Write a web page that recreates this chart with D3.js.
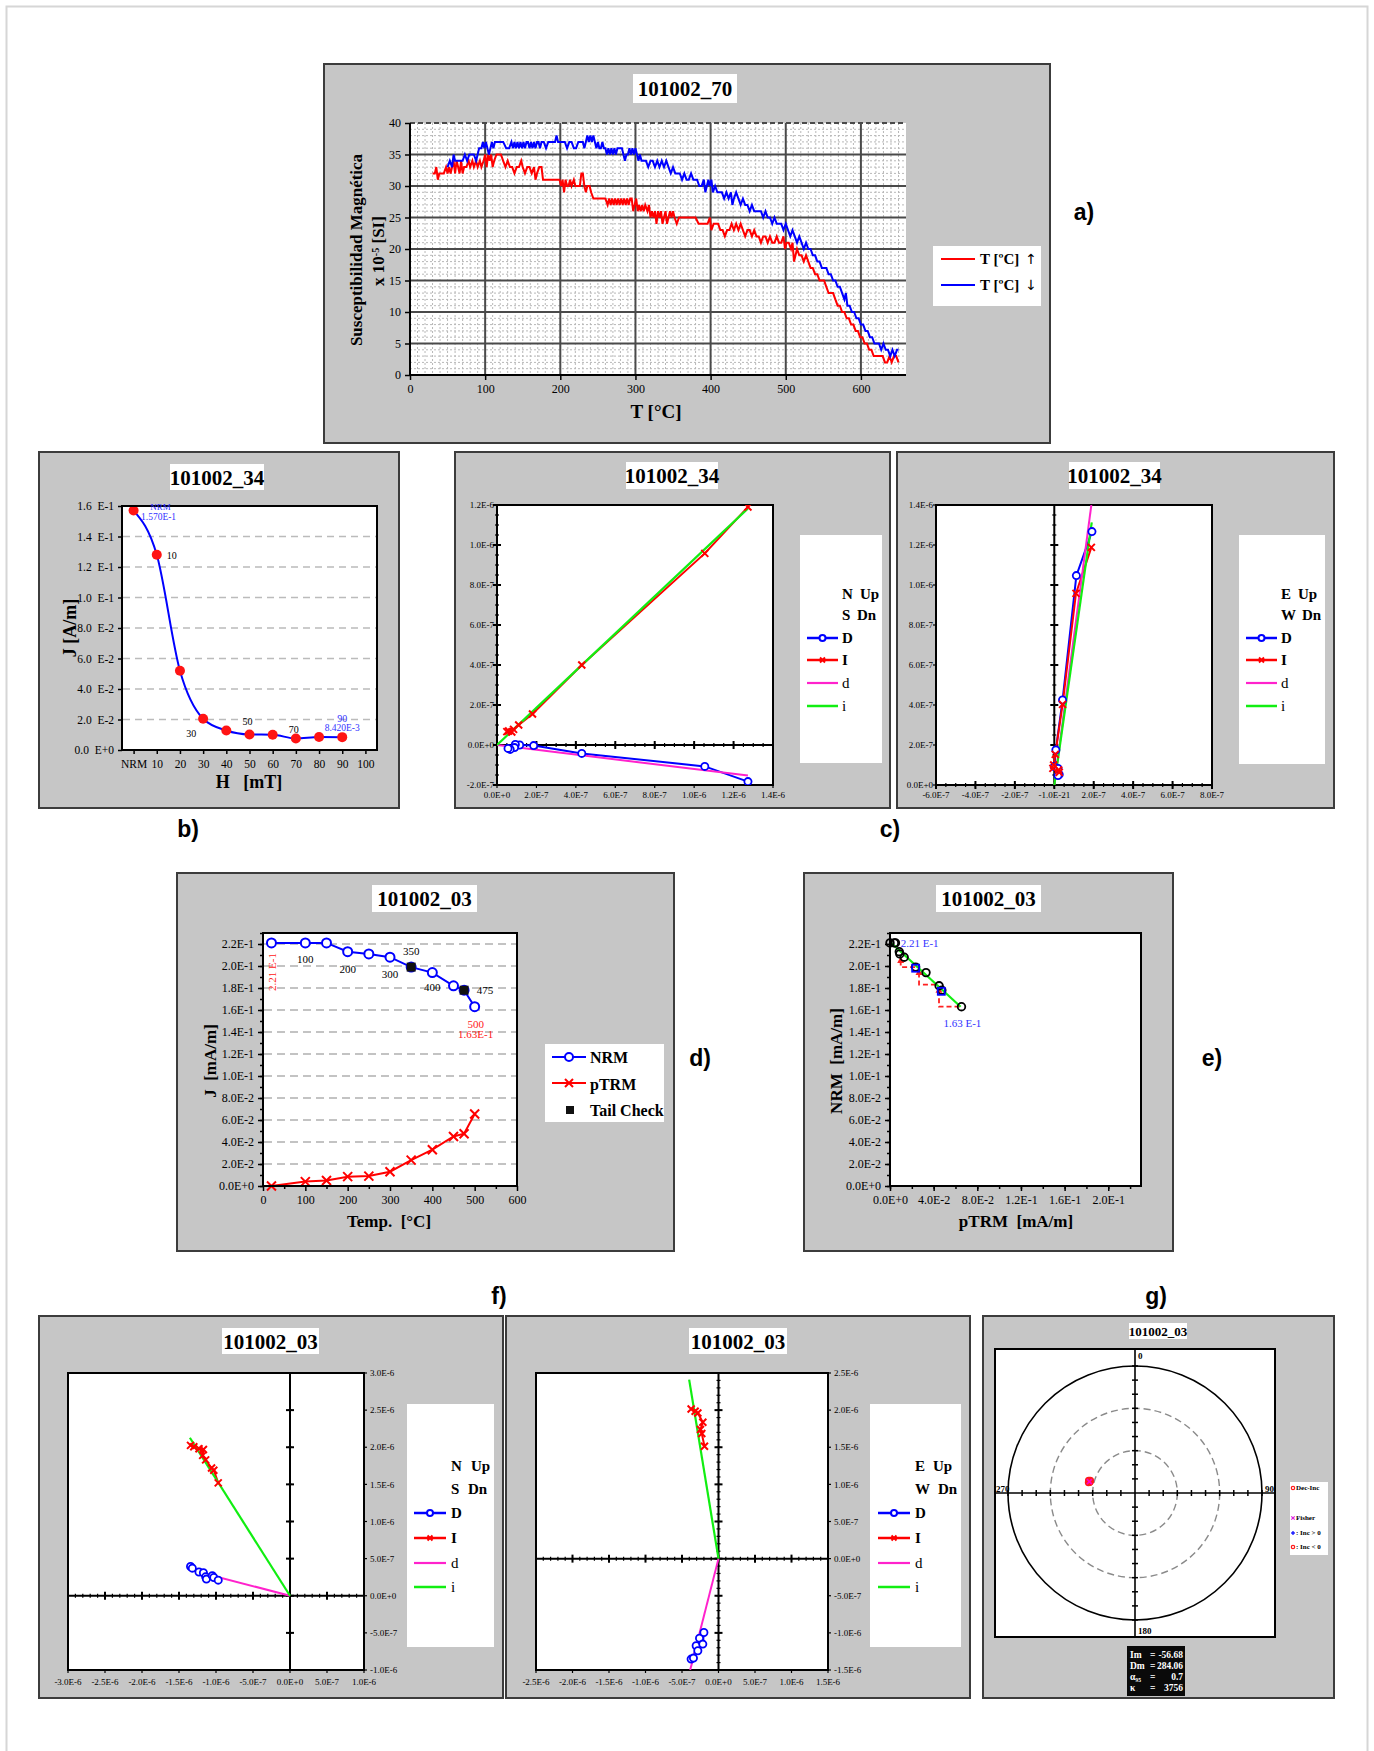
<!DOCTYPE html>
<html><head><meta charset="utf-8">
<script src="https://cdn.jsdelivr.net/npm/d3@7"></script>
<style>body{margin:0;background:#fff}svg{display:block}</style>
</head><body><script>
// ================= DATA =================
// a) susceptibility vs temperature
const suscHeating = [[30,32],[33,32],[35,33],[37,31],[39,32],[42,32],[45,32],[48,33],[50,32],[52,33],[54,32],[56,33],[58,34],[60,32],[62,34],[64,33],[66,32],[68,34],[70,32],[72,33],[75,33],[78,34],[80,33],[83,34],[85,33],[88,34],[90,33],[93,34],[95,33],[98,34],[100,35],[102,33],[104,35],[106,34],[108,35],[110,33],[112,34],[115,35],[118,35],[121,35],[124,34],[127,33],[130,34],[133,33],[136,33],[139,32],[142,33],[145,33],[148,34],[150,33],[153,32],[156,33],[159,33],[162,32],[165,33],[167,31],[169,32],[172,33],[175,33],[177,31],[180,31],[185,31],[190,31],[195,31],[199,31],[201,30],[203,31],[205,29],[207,31],[209,30],[211,30],[213,31],[215,30],[218,31],[220,30],[223,30],[226,30],[228,32],[230,32],[232,30],[234,29],[236,30],[239,30],[241,29],[244,28],[248,28],[252,28],[256,28],[260,28],[263,27],[265,28],[267,27],[269,28],[271,27],[273,28],[275,27],[277,28],[279,27],[281,28],[283,27],[285,28],[287,27],[289,28],[291,27],[293,28],[295,28],[297,26],[299,27],[301,28],[303,26],[305,27],[307,26],[309,27],[311,26],[313,27],[316,26],[318,27],[320,25],[322,26],[324,25],[326,26],[328,24],[330,26],[332,25],[334,26],[336,24],[338,25],[340,26],[342,24],[344,25],[346,26],[348,25],[350,26],[352,25],[355,24],[358,25],[362,25],[366,25],[370,25],[374,25],[377,25],[380,25],[384,24],[388,24],[392,24],[396,24],[399,25],[401,23],[404,24],[407,24],[410,24],[413,23],[416,23],[419,22],[422,23],[425,23],[428,24],[431,23],[434,24],[437,23],[440,24],[443,23],[446,22],[449,23],[452,23],[455,22],[458,23],[461,22],[464,22],[467,21],[470,22],[473,22],[476,21],[479,22],[482,21],[485,21],[488,22],[491,21],[494,21],[497,22],[499,20],[501,21],[504,21],[507,20],[509,21],[511,18],[513,19],[515,20],[518,19],[521,19],[524,18],[527,19],[530,18],[533,17],[536,17],[539,16],[542,16],[545,15],[548,15],[551,15],[554,14],[557,13],[560,13],[563,13],[566,12],[569,11],[572,11],[575,10],[578,10],[581,9],[584,9],[587,8],[590,8],[593,7],[596,7],[599,6],[602,6],[605,5],[608,5],[611,4],[614,4],[617,3],[620,3],[623,3],[626,3],[629,3],[632,2],[635,2],[638,3],[641,2],[644,3],[647,3],[650,2]];
const suscCooling = [[50,33],[53,34],[56,33],[58,35],[60,34],[63,34],[66,34],[70,34],[73,35],[76,34],[79,35],[82,35],[85,35],[88,34],[90,35],[92,36],[95,36],[97,37],[99,36],[101,37],[103,36],[105,35],[107,36],[109,37],[111,36],[113,37],[116,37],[120,37],[124,37],[128,36],[132,36],[135,37],[137,36],[139,37],[141,36],[143,37],[145,36],[147,37],[149,36],[151,37],[153,36],[155,37],[157,37],[159,36],[161,37],[163,36],[165,37],[167,36],[169,37],[171,37],[173,36],[175,37],[178,37],[181,36],[184,37],[187,37],[190,37],[193,37],[195,38],[197,37],[200,37],[203,37],[206,37],[209,36],[212,37],[215,37],[218,36],[221,36],[224,37],[227,37],[230,37],[232,36],[234,37],[236,38],[238,37],[240,38],[242,37],[244,38],[246,37],[248,36],[250,37],[252,36],[254,36],[256,37],[258,36],[260,36],[262,35],[264,36],[266,35],[268,36],[270,35],[272,36],[274,35],[276,36],[278,36],[280,36],[282,36],[284,35],[286,34],[288,35],[290,35],[292,36],[294,35],[296,36],[298,35],[300,36],[302,35],[304,34],[306,35],[308,34],[311,34],[314,34],[317,33],[320,34],[323,34],[326,33],[329,34],[332,33],[335,34],[338,33],[341,34],[344,33],[347,32],[350,33],[353,32],[356,32],[359,32],[362,31],[365,32],[368,31],[371,31],[374,32],[377,31],[379,31],[382,31],[385,30],[388,30],[391,31],[393,29],[395,30],[397,31],[399,30],[401,31],[403,29],[406,30],[409,29],[412,29],[415,29],[418,28],[421,29],[424,28],[427,29],[429,27],[431,28],[434,29],[437,28],[440,27],[443,28],[446,27],[449,27],[452,26],[455,27],[458,26],[461,26],[464,26],[467,26],[470,25],[473,26],[476,25],[479,25],[482,24],[485,25],[488,24],[491,24],[494,24],[497,23],[500,24],[503,23],[506,22],[509,23],[512,22],[515,21],[518,22],[521,21],[524,20],[527,21],[530,20],[533,20],[536,19],[539,19],[542,18],[545,18],[548,17],[551,17],[554,17],[557,16],[560,16],[563,15],[566,15],[569,14],[572,14],[575,13],[578,12],[580,13],[582,11],[585,11],[588,10],[591,10],[594,9],[597,9],[600,8],[603,8],[606,7],[609,7],[612,6],[615,6],[618,5],[621,5],[624,5],[627,4],[630,5],[633,4],[636,4],[639,3],[642,4],[645,3],[648,4],[650,4]];
const suscXTicks = [0,100,200,300,400,500,600];
const suscYTicks = [0,5,10,15,20,25,30,35,40];

// b) AF demagnetisation
const afField = [0,10,20,30,40,50,60,70,80,90];
const afJ = [0.157,0.128,0.052,0.0205,0.0128,0.0102,0.0100,0.0075,0.0085,0.00842];
const afXTickVals = [0,10,20,30,40,50,60,70,80,90,100];
const afXTickLabels = ["NRM","10","20","30","40","50","60","70","80","90","100"];
const afYTickVals = [0,0.02,0.04,0.06,0.08,0.10,0.12,0.14,0.16];
const afYTickLabels = ["0.0  E+0","2.0  E-2","4.0  E-2","6.0  E-2","8.0  E-2","1.0  E-1","1.2  E-1","1.4  E-1","1.6  E-1"];

// c) Zijderveld 101002_34
const c1D = [[1.273e-6,-1.83e-7],[1.054e-6,-1.07e-7],[4.3e-7,-4.2e-8],[1.86e-7,-3e-9],[1.15e-7,0],[9.3e-8,3e-9],[8.9e-8,-1.3e-8],[6.7e-8,-2.2e-8],[5.6e-8,-1.7e-8]];
const c1I = [[1.273e-6,1.19e-6],[1.054e-6,9.58e-7],[4.3e-7,4.0e-7],[1.8e-7,1.55e-7],[1.1e-7,1.0e-7],[8.4e-8,7.8e-8],[5.9e-8,7.0e-8],[5.0e-8,6.7e-8],[7.5e-8,6.5e-8]];
const c1dFit = [[0,0],[1.273e-6,-1.53e-7]];
const c1iFit = [[0,0],[1.273e-6,1.183e-6]];
const c2D = [[1.91e-7,1.267e-6],[1.12e-7,1.047e-6],[4.2e-8,4.25e-7],[8e-9,1.75e-7],[0,9.2e-8],[1.9e-8,8.3e-8],[2.5e-8,5.3e-8],[1.9e-8,4.7e-8]];
const c2I = [[1.88e-7,1.188e-6],[1.1e-7,9.58e-7],[4.2e-8,4.03e-7],[5e-9,1.53e-7],[-3e-9,1.0e-7],[-7e-9,8.3e-8],[2.2e-8,7.5e-8],[2.5e-8,6.3e-8]];
const c2dFit = [[0,0],[1.88e-7,1.4e-6]];
const c2iFit = [[0,0],[1.9e-7,1.313e-6]];
const c1XTicks = [0,2e-7,4e-7,6e-7,8e-7,1.0e-6,1.2e-6,1.4e-6];
const c1YTicks = [-2e-7,0,2e-7,4e-7,6e-7,8e-7,1.0e-6,1.2e-6];
const c2XTicks = [-6e-7,-4e-7,-2e-7,0,2e-7,4e-7,6e-7,8e-7];
const c2XTickLabels = ["-6.0E-7","-4.0E-7","-2.0E-7","-1.0E-21","2.0E-7","4.0E-7","6.0E-7","8.0E-7"];
const c2YTicks = [0,2e-7,4e-7,6e-7,8e-7,1.0e-6,1.2e-6,1.4e-6];

// d) Thellier 101002_03
const thTemp = [20,100,150,200,250,300,350,400,450,475,500];
const thNRM = [0.221,0.221,0.221,0.213,0.211,0.208,0.199,0.194,0.182,0.178,0.163];
const thPTRM = [0,0.004,0.005,0.0085,0.009,0.013,0.0235,0.033,0.045,0.0475,0.0655];
const tailCheck = [[350,0.199],[475,0.178]];
const thXTicks = [0,100,200,300,400,500,600];
const thYTicks = [0,0.02,0.04,0.06,0.08,0.10,0.12,0.14,0.16,0.18,0.20,0.22];
const thYTickLabels = ["0.0E+0","2.0E-2","4.0E-2","6.0E-2","8.0E-2","1.0E-1","1.2E-1","1.4E-1","1.6E-1","1.8E-1","2.0E-1","2.2E-1"];

// e) Arai plot
const araiFit = [[0,0.222],[0.0647,0.163]];
const araiTail = [[0.0235,0.198],[0.047,0.177]];
const araiChecks = [[[0.0098,0.205],[0.0098,0.199],[0.0235,0.199]],[[0.0266,0.194],[0.0266,0.183],[0.0449,0.183]],[[0.0449,0.178],[0.0449,0.163],[0.0647,0.163]]];
const araiXTicks = [0,0.04,0.08,0.12,0.16,0.20];
const araiXTickLabels = ["0.0E+0","4.0E-2","8.0E-2","1.2E-1","1.6E-1","2.0E-1"];

// f) Zijderveld 101002_03
const f1D = [[-1.344e-6,3.94e-7],[-1.32e-6,3.72e-7],[-1.23e-6,3.2e-7],[-1.17e-6,3.1e-7],[-1.14e-6,2.55e-7],[-1.13e-6,2.24e-7],[-1.05e-6,2.7e-7],[-1.03e-6,2.46e-7],[-0.97e-6,2.1e-7]];
const f1I = [[-1.344e-6,2.025e-6],[-1.30e-6,2.007e-6],[-1.23e-6,1.98e-6],[-1.17e-6,1.97e-6],[-1.18e-6,1.89e-6],[-1.14e-6,1.83e-6],[-1.06e-6,1.72e-6],[-1.03e-6,1.69e-6],[-0.97e-6,1.52e-6]];
const f1dFit = [[0,0],[-1.353e-6,3.5e-7]];
const f1iFit = [[0,0],[-1.353e-6,2.128e-6]];
const f2D = [[-3.75e-7,-1.353e-6],[-3.43e-7,-1.34e-6],[-3.06e-7,-1.174e-6],[-2.83e-7,-1.241e-6],[-2.6e-7,-1.071e-6],[-2.15e-7,-1.151e-6],[-2.0e-7,-0.995e-6]];
const f2I = [[-3.75e-7,2.016e-6],[-3.2e-7,1.985e-6],[-2.83e-7,1.962e-6],[-2.15e-7,1.837e-6],[-2.47e-7,1.738e-6],[-2.29e-7,1.685e-6],[-1.92e-7,1.514e-6]];
const f2dFit = [[0,0],[-3.88e-7,-1.5e-6]];
const f2iFit = [[0,0],[-4.02e-7,2.41e-6]];
const f1XTicks = [-3e-6,-2.5e-6,-2e-6,-1.5e-6,-1e-6,-5e-7,0,5e-7,1e-6];
const f1YTicks = [-1e-6,-5e-7,0,5e-7,1e-6,1.5e-6,2e-6,2.5e-6,3e-6];
const f2XTicks = [-2.5e-6,-2e-6,-1.5e-6,-1e-6,-5e-7,0,5e-7,1e-6,1.5e-6];
const f2YTicks = [-1.5e-6,-1e-6,-5e-7,0,5e-7,1e-6,1.5e-6,2e-6,2.5e-6];

// g) stereonet
const dirDec = [282.8,283.6,284.0,284.6,285.2,283.2,284.8,285.6];
const dirInc = [-56.2,-57.0,-56.5,-57.3,-56.0,-56.9,-56.4,-57.1];
const fisherMean = {dec:284.06, inc:-56.68, a95:"0.7", k:"3756"};

// ================= DRAWING =================
const SERIF='"Liberation Serif","Times New Roman",serif';
const SANS='"Liberation Sans",Arial,sans-serif';
const BLUE="#0000ff", RED="#ff0000", PINK="#ff22cc", GREEN="#11ee11";
const svg=d3.select("body").append("svg").attr("width",1374).attr("height",1751).style("font-family",SERIF);

svg.append("rect").attr("x",6.5).attr("y",6.5).attr("width",1361).attr("height",1780)
  .attr("fill","none").attr("stroke","#d6d6d6").attr("stroke-width",2);

function panel(x,y,w,h){svg.append("rect").attr("x",x).attr("y",y).attr("width",w).attr("height",h)
  .attr("fill","#c6c6c6").attr("stroke","#3c3c3c").attr("stroke-width",2);}
function title(x1,y1,x2,y2,t,fs){
  svg.append("rect").attr("x",x1).attr("y",y1).attr("width",x2-x1).attr("height",y2-y1).attr("fill","#fff");
  svg.append("text").attr("x",(x1+x2)/2).attr("y",(y1+y2)/2).attr("dy","0.36em").attr("text-anchor","middle")
   .attr("font-weight","bold").attr("font-size",fs).text(t);}
function txt(x,y,t,o={}){
  const e=svg.append("text").attr("x",x).attr("y",y).attr("dy",o.dy||"0.35em")
   .attr("text-anchor",o.anchor||"middle").attr("font-size",o.fs||12).attr("fill",o.fill||"#000")
   .attr("font-weight",o.bold?"bold":"normal").attr("font-family",o.family||SERIF).text(t);
  if(o.rot!==undefined) e.attr("transform",`rotate(${o.rot},${x},${y})`);
  return e;}
function ln(x1,y1,x2,y2,st="#000",sw=1.5,dash){
  const e=svg.append("line").attr("x1",x1).attr("y1",y1).attr("x2",x2).attr("y2",y2).attr("stroke",st).attr("stroke-width",sw);
  if(dash) e.attr("stroke-dasharray",dash); return e;}
function rect(x,y,w,h,fill,stroke,sw){
  const e=svg.append("rect").attr("x",x).attr("y",y).attr("width",w).attr("height",h).attr("fill",fill||"none");
  if(stroke) e.attr("stroke",stroke).attr("stroke-width",sw||1); return e;}
function styleAxis(g,fs){
  g.select(".domain").remove();
  g.selectAll(".tick line").attr("stroke","#000").attr("stroke-width",1.5);
  g.selectAll(".tick text").attr("font-size",fs).attr("font-family",SERIF).attr("fill","#000");}
function xMark(g,x,y,s,col,sw){
  g.append("path").attr("d",`M${x-s},${y-s}L${x+s},${y+s}M${x-s},${y+s}L${x+s},${y-s}`).attr("stroke",col).attr("stroke-width",sw||2).attr("fill","none");}
function fmtE(v){ if(Math.abs(v)<1e-15) return "0.0E+0";
  const e=Math.floor(Math.log10(Math.abs(v))+1e-9); const m=v/Math.pow(10,e);
  return m.toFixed(1)+"E"+(e<0?"-"+(-e):"+"+e);}
function steps(a,b,s){const n=Math.round((b-a)/s);return d3.range(n+1).map(i=>a+i*s);}
function letter(x,y,t){txt(x,y,t,{fs:23,bold:true,family:SANS});}

// ---------- Panel a ----------
panel(324,64,726,379);
title(633,74,737,103,"101002_70",21);
const xA=d3.scaleLinear().domain([0,660]).range([410,906]);
const yA=d3.scaleLinear().domain([0,40]).range([375,123]);
rect(410,123,496,252,"#fff");
d3.range(10,660,10).filter(v=>v%100).forEach(v=>ln(xA(v),123,xA(v),375,"#b8b8b8",1,"2,2"));
d3.range(1,40).filter(v=>v%5).forEach(v=>ln(410,yA(v),906,yA(v),"#b8b8b8",1,"2,2"));
suscXTicks.slice(1).forEach(v=>ln(xA(v),123,xA(v),375,"#4a4a4a",2));
suscYTicks.slice(1,-1).forEach(v=>ln(410,yA(v),906,yA(v),"#4a4a4a",2));
ln(410,yA(40),906,yA(40),"#4a4a4a",2,"5,3");
const lineA=d3.line().x(d=>xA(d[0])).y(d=>yA(d[1]));
svg.append("path").attr("d",lineA(suscHeating)).attr("fill","none").attr("stroke",RED).attr("stroke-width",2);
svg.append("path").attr("d",lineA(suscCooling)).attr("fill","none").attr("stroke",BLUE).attr("stroke-width",2);
ln(410,123,410,376,"#000",2); ln(409,375,906,375,"#000",2);
styleAxis(svg.append("g").attr("transform","translate(410,0)").call(d3.axisLeft(yA).tickValues(suscYTicks).tickSize(5).tickPadding(4)),12);
styleAxis(svg.append("g").attr("transform","translate(0,375)").call(d3.axisBottom(xA).tickValues(suscXTicks).tickSize(5).tickPadding(4)),12);
txt(356,250,"Susceptibilidad Magnética",{rot:-90,fs:17,bold:true});
{const t=txt(378,251,"x 10",{rot:-90,fs:17,bold:true});
 t.append("tspan").attr("baseline-shift","super").attr("font-size",10).text("-5");
 t.append("tspan").text(" [SI]");}
txt(656,411,"T [°C]",{fs:19,bold:true});
rect(933,246,108,60,"#fff");
ln(941,259,975,259,RED,2); ln(941,285,975,285,BLUE,2);
txt(980,259,"T [ºC]",{anchor:"start",fs:15,bold:true}); txt(1031,259,"↑",{fs:14,family:"DejaVu Sans"});
txt(980,285,"T [ºC]",{anchor:"start",fs:15,bold:true}); txt(1031,285,"↓",{fs:14,family:"DejaVu Sans"});
letter(1084,212,"a)");

// ---------- Panel b ----------
panel(39,452,360,356);
title(170,464,264,490,"101002_34",21);
const xB=d3.scaleLinear().domain([-5,105]).range([122,377]);
const yB=d3.scaleLinear().domain([0,0.16]).range([750,506]);
rect(122,506,255,244,"#fff");
afYTickVals.slice(1,-1).forEach(v=>ln(123,yB(v),376,yB(v),"#bbbbbb",1.5,"7,5"));
svg.append("path").attr("d",d3.line().curve(d3.curveMonotoneX).x((d,i)=>xB(afField[i])).y(d=>yB(d))(afJ))
  .attr("fill","none").attr("stroke",BLUE).attr("stroke-width",2);
afJ.forEach((d,i)=>svg.append("circle").attr("cx",xB(afField[i])).attr("cy",yB(d)).attr("r",5).attr("fill","#ff1414"));
rect(122,506,255,244,"none","#000",2);
styleAxis(svg.append("g").attr("transform","translate(122,0)").call(d3.axisLeft(yB).tickValues(afYTickVals).tickFormat((d,i)=>afYTickLabels[i]).tickSize(4).tickPadding(4)),11.5);
styleAxis(svg.append("g").attr("transform","translate(0,750)").call(d3.axisBottom(xB).tickValues(afXTickVals).tickFormat((d,i)=>afXTickLabels[i]).tickSize(4).tickPadding(6)),11.5);
svg.selectAll("text").filter(function(){return this.textContent.includes("  E");}).style("white-space","pre");
txt(xB(0)+27,507,"NRM",{fs:9,fill:"#3333ff"});
txt(xB(0)+25,517,"1.570E-1",{fs:9.5,fill:"#3333ff"});
txt(xB(10)+15,yB(afJ[1])+1,"10",{fs:10});
txt(xB(30)-12,yB(afJ[3])+15,"30",{fs:10});
txt(xB(50)-2,yB(afJ[5])-13,"50",{fs:10});
txt(xB(70)-2,yB(afJ[7])-9,"70",{fs:10});
txt(xB(90),yB(afJ[9])-19,"90",{fs:10,fill:"#3333ff"});
txt(xB(90),yB(afJ[9])-9,"8.420E-3",{fs:9.5,fill:"#3333ff"});
txt(70,628,"J  [A/m]",{rot:-90,fs:18,bold:true});
svg.append("text").attr("x",249).attr("y",782).attr("dy","0.35em").attr("text-anchor","middle").attr("font-size",18).attr("font-weight","bold").style("white-space","pre").text("H   [mT]");
letter(188,829,"b)");

// ---------- Zijderveld helper ----------
function zij(c){
  const x=d3.scaleLinear().domain(c.xDom).range([c.px,c.px+c.pw]);
  const y=d3.scaleLinear().domain(c.yDom).range([c.py+c.ph,c.py]);
  rect(c.px,c.py,c.pw,c.ph,"#fff");
  const cid="clip_"+c.id;
  svg.append("clipPath").attr("id",cid).append("rect").attr("x",c.px).attr("y",c.py).attr("width",c.pw).attr("height",c.ph);
  const x0=x(0), y0=y(0);
  ln(c.px,y0,c.px+c.pw,y0,"#000",2);
  steps(c.xDom[0],c.xDom[1],c.hMinor).forEach(v=>ln(x(v),y0-2,x(v),y0+2,"#000",1.2));
  steps(c.xDom[0],c.xDom[1],c.hMajor).forEach(v=>ln(x(v),y0-4,x(v),y0+4,"#000",2));
  ln(x0,c.py,x0,c.py+c.ph,"#000",2);
  steps(c.yDom[0],c.yDom[1],c.vMinor).forEach(v=>ln(x0-2,y(v),x0+2,y(v),"#000",1.2));
  steps(c.yDom[0],c.yDom[1],c.vMajor).forEach(v=>ln(x0-4,y(v),x0+4,y(v),"#000",2));
  rect(c.px,c.py,c.pw,c.ph,"none","#000",2);
  c.yTicks.forEach(v=>{const yy=y(v);
    if(c.ySide==="left"){ln(c.px-3,yy,c.px,yy,"#000",1.2);txt(c.px-3,yy,fmtE(v),{anchor:"end",fs:9});}
    else {ln(c.px+c.pw,yy,c.px+c.pw+3,yy,"#000",1.2);txt(c.px+c.pw+6,yy,fmtE(v),{anchor:"start",fs:9});}});
  c.xTicks.forEach((v,i)=>{ln(x(v),c.py+c.ph,x(v),c.py+c.ph+3,"#000",1.2);
    txt(x(v),c.py+c.ph+c.xLabOff,c.xLabels?c.xLabels[i]:fmtE(v),{fs:9,dy:"0"});});
  const L=d3.line().x(d=>x(d[0])).y(d=>y(d[1]));
  const g=svg.append("g").attr("clip-path",`url(#${cid})`);
  g.append("path").attr("d",L(c.D)).attr("fill","none").attr("stroke",BLUE).attr("stroke-width",2);
  g.append("path").attr("d",L(c.I)).attr("fill","none").attr("stroke",RED).attr("stroke-width",2);
  g.append("path").attr("d",L(c.dFit)).attr("fill","none").attr("stroke",PINK).attr("stroke-width",2);
  g.append("path").attr("d",L(c.iFit)).attr("fill","none").attr("stroke",GREEN).attr("stroke-width",2.2);
  c.D.forEach(d=>g.append("circle").attr("cx",x(d[0])).attr("cy",y(d[1])).attr("r",3.6).attr("fill","#fff").attr("stroke",BLUE).attr("stroke-width",1.8));
  c.I.forEach(d=>xMark(g,x(d[0]),y(d[1]),3.5,RED,2));
  const lg=c.lg;
  rect(lg.x,lg.y,lg.w,lg.h,"#fff");
  txt(lg.tx,lg.rows[0],lg.l1[0],{anchor:"start",fs:15,bold:true}); txt(lg.ux1,lg.rows[0],lg.l1[1],{anchor:"start",fs:15,bold:true});
  txt(lg.tx,lg.rows[1],lg.l2[0],{anchor:"start",fs:15,bold:true}); txt(lg.ux2,lg.rows[1],lg.l2[1],{anchor:"start",fs:15,bold:true});
  const lx1=lg.lx1, lx2=lg.lx2, mid=(lx1+lx2)/2;
  ln(lx1,lg.rows[2],lx2,lg.rows[2],BLUE,2.5);
  svg.append("circle").attr("cx",mid).attr("cy",lg.rows[2]).attr("r",3).attr("fill","#fff").attr("stroke",BLUE).attr("stroke-width",2);
  txt(lg.tx,lg.rows[2],"D",{anchor:"start",fs:15,bold:true});
  ln(lx1,lg.rows[3],lx2,lg.rows[3],RED,2.5); xMark(svg,mid,lg.rows[3],2.5,RED,2);
  txt(lg.tx,lg.rows[3],"I",{anchor:"start",fs:15,bold:true});
  ln(lx1,lg.rows[4],lx2,lg.rows[4],PINK,2.2);
  txt(lg.tx,lg.rows[4],"d",{anchor:"start",fs:15});
  ln(lx1,lg.rows[5],lx2,lg.rows[5],GREEN,2.5);
  txt(lg.tx,lg.rows[5],"i",{anchor:"start",fs:15});
}

// ---------- Panel c (left) ----------
panel(455,452,435,356);
title(626,462,718,489,"101002_34",21);
zij({id:"c1",px:497,py:505,pw:276,ph:280,xDom:[0,1.4e-6],yDom:[-2e-7,1.2e-6],
  hMinor:5e-8,hMajor:2e-7,vMinor:5e-8,vMajor:2e-7,xTicks:c1XTicks,yTicks:c1YTicks,ySide:"left",xLabOff:13,
  D:c1D,I:c1I,dFit:c1dFit,iFit:c1iFit,
  lg:{x:800,y:535,w:82,h:228,tx:842,ux1:860,ux2:857,l1:["N","Up"],l2:["S","Dn"],lx1:807,lx2:838,rows:[594,615,638,660,683,706]}});

// ---------- Panel c (right) ----------
panel(897,452,437,356);
title(1069,462,1160,489,"101002_34",21);
zij({id:"c2",px:936,py:505,pw:276,ph:280,xDom:[-6e-7,8e-7],yDom:[0,1.4e-6],
  hMinor:5e-8,hMajor:2e-7,vMinor:5e-8,vMajor:2e-7,xTicks:c2XTicks,xLabels:c2XTickLabels,yTicks:c2YTicks,ySide:"left",xLabOff:13,
  D:c2D,I:c2I,dFit:c2dFit,iFit:c2iFit,
  lg:{x:1239,y:535,w:86,h:229,tx:1281,ux1:1298,ux2:1302,l1:["E","Up"],l2:["W","Dn"],lx1:1246,lx2:1277,rows:[594,615,638,660,683,706]}});
letter(890,829,"c)");

// ---------- Panel d ----------
panel(177,873,497,378);
title(372,885,477,912,"101002_03",21);
const xD=d3.scaleLinear().domain([0,600]).range([263,517]);
const yD=d3.scaleLinear().domain([0,0.23]).range([1186,933]);
rect(263,933,254,253,"#fff");
thYTicks.slice(1).forEach(v=>ln(264,yD(v),516,yD(v),"#b0b0b0",1.5,"8,5"));
const lineD=d3.line().x((d,i)=>xD(thTemp[i])).y(d=>yD(d));
svg.append("path").attr("d",lineD(thNRM)).attr("fill","none").attr("stroke",BLUE).attr("stroke-width",2);
svg.append("path").attr("d",lineD(thPTRM)).attr("fill","none").attr("stroke",RED).attr("stroke-width",2);
thNRM.forEach((d,i)=>svg.append("circle").attr("cx",xD(thTemp[i])).attr("cy",yD(d)).attr("r",4.5).attr("fill","#fff").attr("stroke",BLUE).attr("stroke-width",2));
thPTRM.forEach((d,i)=>xMark(svg,xD(thTemp[i]),yD(d),4.5,RED,2));
tailCheck.forEach(d=>rect(xD(d[0])-4.5,yD(d[1])-4.5,9,9,"#111"));
rect(263,933,254,253,"none","#000",2);
styleAxis(svg.append("g").attr("transform","translate(263,0)").call(d3.axisLeft(yD).tickValues(steps(0,0.23,0.01)).tickFormat("").tickSize(3)),12);
styleAxis(svg.append("g").attr("transform","translate(263,0)").call(d3.axisLeft(yD).tickValues(thYTicks).tickFormat((d,i)=>thYTickLabels[i]).tickSize(5).tickPadding(4)),12);
styleAxis(svg.append("g").attr("transform","translate(0,1186)").call(d3.axisBottom(xD).tickValues([50,150,250,350,450,550]).tickFormat("").tickSize(3)),12);
styleAxis(svg.append("g").attr("transform","translate(0,1186)").call(d3.axisBottom(xD).tickValues(thXTicks).tickSize(5).tickPadding(4)),12);
txt(xD(100),yD(0.221)+16,"100",{fs:11});
txt(xD(200),yD(0.213)+17,"200",{fs:11});
txt(xD(300),yD(0.208)+17,"300",{fs:11});
txt(xD(350),yD(0.199)-16,"350",{fs:11});
txt(xD(400),yD(0.194)+15,"400",{fs:11});
txt(xD(475)+21,yD(0.178),"475",{fs:11});
txt(xD(500)+1,yD(0.163)+17,"500",{fs:11,fill:"#ff2020"});
txt(xD(500)+1,yD(0.163)+27,"1.63E-1",{fs:11,fill:"#ff2020"});
txt(272,972,"2.21 E-1",{fs:11,fill:"#ff2020",rot:-90});
svg.append("text").attr("transform","translate(210,1061) rotate(-90)").attr("dy","0.35em").attr("text-anchor","middle").attr("font-size",17).attr("font-weight","bold").style("white-space","pre").text("J  [mA/m]");
svg.append("text").attr("x",389).attr("y",1221).attr("dy","0.35em").attr("text-anchor","middle").attr("font-size",17).attr("font-weight","bold").style("white-space","pre").text("Temp.  [°C]");
rect(545,1044,119,78,"#fff");
ln(552,1057,586,1057,BLUE,2); svg.append("circle").attr("cx",569).attr("cy",1057).attr("r",4).attr("fill","#fff").attr("stroke",BLUE).attr("stroke-width",2);
txt(590,1057,"NRM",{anchor:"start",fs:16,bold:true});
ln(552,1083,586,1083,RED,2); xMark(svg,569,1083,4,RED,2);
txt(590,1084,"pTRM",{anchor:"start",fs:16,bold:true});
rect(566,1106,8,8,"#111");
txt(590,1110,"Tail Check",{anchor:"start",fs:16,bold:true});
letter(700,1058,"d)");

// ---------- Panel e ----------
panel(804,873,369,378);
title(936,885,1041,912,"101002_03",21);
const xE=d3.scaleLinear().domain([0,0.23]).range([890,1141]);
const yE=d3.scaleLinear().domain([0,0.23]).range([1186,933]);
rect(890,933,251,253,"#fff");
araiChecks.forEach(p=>svg.append("path").attr("d",d3.line().x(d=>xE(d[0])).y(d=>yE(d[1]))(p)).attr("fill","none").attr("stroke","#ff2020").attr("stroke-width",1.8).attr("stroke-dasharray","5,3"));
araiChecks.forEach(p=>{const x=xE(p[0][0]),y=yE(p[0][1]);svg.append("path").attr("d",`M${x},${y-4}L${x+3.5},${y+2.5}L${x-3.5},${y+2.5}Z`).attr("fill","#ff2020");});
svg.append("path").attr("d",d3.line().x(d=>xE(d[0])).y(d=>yE(d[1]))(araiFit)).attr("stroke",GREEN).attr("stroke-width",2.2).attr("fill","none");
thNRM.forEach((d,i)=>svg.append("circle").attr("cx",xE(thPTRM[i])).attr("cy",yE(d)).attr("r",3.8).attr("fill","none").attr("stroke","#000").attr("stroke-width",1.8));
araiTail.forEach(d=>rect(xE(d[0])-3.5,yE(d[1])-3.5,7,7,"none","#0000ff",1.8));
rect(890,933,251,253,"none","#000",2);
styleAxis(svg.append("g").attr("transform","translate(890,0)").call(d3.axisLeft(yE).tickValues(steps(0,0.23,0.01)).tickFormat("").tickSize(3)),12);
styleAxis(svg.append("g").attr("transform","translate(890,0)").call(d3.axisLeft(yE).tickValues(thYTicks).tickFormat((d,i)=>thYTickLabels[i]).tickSize(5).tickPadding(4)),12);
styleAxis(svg.append("g").attr("transform","translate(0,1186)").call(d3.axisBottom(xE).tickValues(steps(0,0.22,0.02)).tickFormat("").tickSize(3)),12);
styleAxis(svg.append("g").attr("transform","translate(0,1186)").call(d3.axisBottom(xE).tickValues(araiXTicks).tickFormat((d,i)=>araiXTickLabels[i]).tickSize(5).tickPadding(4)),12);
txt(xE(0.0098),yE(0.221),"2.21 E-1",{anchor:"start",fs:11,fill:"#3333ff"});
txt(xE(0.049),yE(0.148),"1.63 E-1",{anchor:"start",fs:11,fill:"#3333ff"});
svg.append("text").attr("transform","translate(836,1061) rotate(-90)").attr("dy","0.35em").attr("text-anchor","middle").attr("font-size",17).attr("font-weight","bold").style("white-space","pre").text("NRM  [mA/m]");
svg.append("text").attr("x",1016).attr("y",1221).attr("dy","0.35em").attr("text-anchor","middle").attr("font-size",17).attr("font-weight","bold").style("white-space","pre").text("pTRM  [mA/m]");
letter(1212,1058,"e)");

// ---------- Panel f (two Zijderveld) ----------
panel(39,1316,464,382);
title(222,1328,319,1354,"101002_03",21);
zij({id:"f1",px:68,py:1373,pw:296,ph:297,xDom:[-3e-6,1e-6],yDom:[-1e-6,3e-6],
  hMinor:1e-7,hMajor:5e-7,vMinor:5e-7,vMajor:5e-7,xTicks:f1XTicks,yTicks:f1YTicks,ySide:"right",xLabOff:15,
  D:f1D,I:f1I,dFit:f1dFit,iFit:f1iFit,
  lg:{x:407,y:1404,w:87,h:243,tx:451,ux1:471,ux2:468,l1:["N","Up"],l2:["S","Dn"],lx1:414,lx2:446,rows:[1466,1489,1513,1538,1563,1587]}});
panel(506,1316,464,382);
title(689,1328,787,1354,"101002_03",21);
zij({id:"f2",px:536,py:1373,pw:292,ph:297,xDom:[-2.5e-6,1.5e-6],yDom:[-1.5e-6,2.5e-6],
  hMinor:1e-7,hMajor:5e-7,vMinor:1e-7,vMajor:5e-7,xTicks:f2XTicks,yTicks:f2YTicks,ySide:"right",xLabOff:15,
  D:f2D,I:f2I,dFit:f2dFit,iFit:f2iFit,
  lg:{x:870,y:1404,w:91,h:243,tx:915,ux1:933,ux2:938,l1:["E","Up"],l2:["W","Dn"],lx1:878,lx2:910,rows:[1466,1489,1513,1538,1563,1587]}});
letter(499,1296,"f)");

// ---------- Panel g (stereonet) ----------
panel(983,1316,351,382);
title(1129,1323,1187,1339,"101002_03",13);
const cx=1135, cy=1493, R=127;
rect(995,1349,280,288,"#fff","#000",2);
const rad=d3.scaleLinear().domain([90,0]).range([0,R]);
svg.append("circle").attr("cx",cx).attr("cy",cy).attr("r",rad(0)).attr("fill","none").attr("stroke","#000").attr("stroke-width",1.6);
[30,60].forEach(a=>svg.append("circle").attr("cx",cx).attr("cy",cy).attr("r",rad(a)).attr("fill","none").attr("stroke","#8a8a8a").attr("stroke-width",1.4).attr("stroke-dasharray","7,4"));
ln(995,cy,1275,cy,"#000",1.6); ln(cx,1349,cx,1637,"#000",1.6);
d3.range(80,-1,-10).forEach(a=>{const r=rad(a);
  ln(cx+r,cy-3,cx+r,cy+3,"#000",1.5); ln(cx-r,cy-3,cx-r,cy+3,"#000",1.5);
  ln(cx-3,cy+r,cx+3,cy+r,"#000",1.5); ln(cx-3,cy-r,cx+3,cy-r,"#000",1.5);});
txt(cx+3,1356,"0",{anchor:"start",fs:9,bold:true});
txt(1274,1489,"90",{anchor:"end",fs:9,bold:true});
txt(996,1489,"270",{anchor:"start",fs:9,bold:true});
txt(cx+3,1631,"180",{anchor:"start",fs:9,bold:true});
const proj=(dec,inc)=>{const r=rad(Math.abs(inc)),a=dec*Math.PI/180;return [cx+r*Math.sin(a),cy-r*Math.cos(a)];};
dirDec.forEach((d,i)=>{const p=proj(d,dirInc[i]);svg.append("circle").attr("cx",p[0]).attr("cy",p[1]).attr("r",2.8).attr("fill","none").attr("stroke","#ff1a1a").attr("stroke-width",1.8);});
{const p=proj(fisherMean.dec,fisherMean.inc); xMark(svg,p[0],p[1],2.5,"#ff00cc",1.6);}
rect(1290,1482,38,73,"#fff");
svg.append("circle").attr("cx",1293).attr("cy",1488).attr("r",1.7).attr("fill","none").attr("stroke","#ff1a1a").attr("stroke-width",1.2);
txt(1296,1488,"Dec-Inc",{anchor:"start",fs:7,bold:true});
xMark(svg,1293,1518,1.7,"#dd22dd",1.2); txt(1296,1518,"Fisher",{anchor:"start",fs:7,bold:true});
ln(1291,1533,1295,1533,"#0000ff",1.2); ln(1293,1531,1293,1535,"#0000ff",1.2); txt(1296,1533,": Inc > 0",{anchor:"start",fs:7,bold:true});
svg.append("circle").attr("cx",1293).attr("cy",1547).attr("r",1.7).attr("fill","none").attr("stroke","#ff1a1a").attr("stroke-width",1.2);
txt(1296,1547,": Inc < 0",{anchor:"start",fs:7,bold:true});
rect(1127,1646,58,50,"#0a0a0a");
const stats=[["Im","=",fisherMean.inc.toFixed(2)],["Dm","=",fisherMean.dec.toFixed(2)],["α₉₅","=",fisherMean.a95],["κ","=",fisherMean.k]];
stats.forEach((s,i)=>{const yy=1655+i*11;
  txt(1130,yy,s[0],{anchor:"start",fs:9.5,bold:true,fill:"#fff"});
  txt(1150,yy,s[1],{anchor:"start",fs:9.5,bold:true,fill:"#fff"});
  txt(1183,yy,s[2],{anchor:"end",fs:9.5,bold:true,fill:"#fff"});});
letter(1156,1296,"g)");
</script></body></html>
